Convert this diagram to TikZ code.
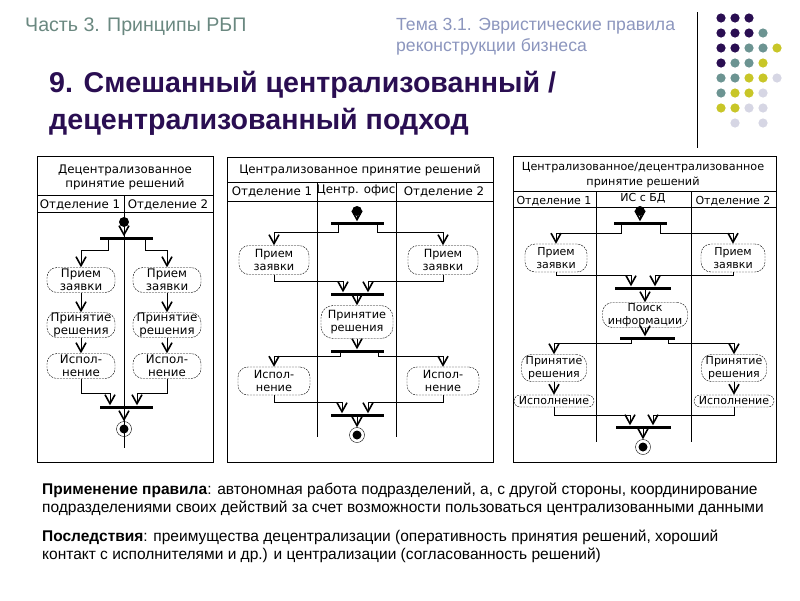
\documentclass[tikz,border=0pt]{standalone}
\usepackage{fontspec}
\setmainfont{Liberation Sans}
\newfontfamily\dgfont{DejaVu Sans}
\usetikzlibrary{arrows.meta}
\definecolor{rbppurple}{RGB}{42,14,82}
\definecolor{rbpteal}{RGB}{108,148,146}
\definecolor{rbpolive}{RGB}{200,198,40}
\definecolor{rbplilac}{RGB}{214,214,228}
\definecolor{rbpgreen}{RGB}{106,136,128}
\definecolor{rbpslate}{RGB}{140,150,190}

\begin{document}
\begin{tikzpicture}[x=1pt,y=-1pt,
  font=\dgfont\fontsize{11.8}{13}\selectfont,
  frame/.style={draw,line width=0.8pt},
  lane/.style={line width=0.7pt},
  act/.style={draw=black,dash pattern=on 2pt off 1pt,rounded corners=10pt,align=center,inner sep=0pt,minimum width=68pt,minimum height=25pt},
  bar/.style={fill=black,inner sep=0pt,minimum width=53pt,minimum height=3pt},
  start/.style={circle,fill=black,inner sep=0pt,minimum size=10pt},
  finish/.style={circle,draw,inner sep=0pt,minimum size=15pt,path picture={\fill (path picture bounding box.center) circle (4.5pt);}},
  flow/.style={line width=0.7pt,-{Straight Barb[length=9pt,width=10pt,line width=1.6pt]}},
  dot/.style={radius=4.6pt}]

\fill[white] (0,0) rectangle (800,600);
\useasboundingbox (0,0) rectangle (800,600);

% slide header
\node[anchor=west,inner sep=0,font=\fontsize{19.6}{22}\selectfont,text=rbpgreen] (part) at (25,27) {Часть 3. Принципы РБП};
\node[anchor=west,inner sep=0,align=left,font=\fontsize{17.6}{21}\selectfont,text=rbpslate] (topic) at (396,36.5) {Тема 3.1. Эвристические правила\\реконструкции бизнеса};
\node[anchor=west,inner sep=0,align=left,font=\fontsize{28.6}{37}\selectfont\bfseries,text=rbppurple] (title) at (49,103.5) {9. Смешанный централизованный /\\децентрализованный подход};
\draw[line width=0.9pt] (697,12) -- (697,148);

\foreach \c/\r in {1/1,2/1,3/1,1/2,2/2,3/2,1/3,2/3,1/4}
  \fill[rbppurple,dot] (707+14*\c,3+15*\r) circle;
\foreach \c/\r in {4/2,3/3,4/3,2/4,3/4,1/5,2/5,1/6}
  \fill[rbpteal,dot] (707+14*\c,3+15*\r) circle;
\foreach \c/\r in {5/3,4/4,3/5,4/5,2/6,3/6,1/7,2/7}
  \fill[rbpolive,dot] (707+14*\c,3+15*\r) circle;
\foreach \c/\r in {5/5,4/6,3/7,4/7,2/8,4/8}
  \fill[rbplilac,dot] (707+14*\c,3+15*\r) circle;

% decentralised
\draw[frame] (37,156) rectangle (213,462);
\draw[lane] (37,195) -- (213,195);
\draw[lane] (37,212) -- (213,212);
\draw[lane] (124,195) -- (124,448);
\node[align=center,font=\dgfont\fontsize{11.8}{14}\selectfont] (t1) at (125,177) {Децентрализованное\\принятие решений};
\node (h11) at (80,205) {Отделение 1};
\node (h12) at (168,205) {Отделение 2};

\node[start] (s1) at (124,222) {};
\node[bar] (fk1) at (126,238) {};
\node[act] (a1) at (81,280) {Прием\\заявки};
\node[act] (a2) at (167,280) {Прием\\заявки};
\node[act] (b1) at (81,325) {Принятие\\решения};
\node[act] (b2) at (167,325) {Принятие\\решения};
\node[act] (c1) at (81,366) {Испол-\\нение};
\node[act] (c2) at (167,366) {Испол-\\нение};
\node[bar] (jn1) at (126,407) {};
\node[finish] (e1) at (124,429) {};

\draw[flow] (s1) -- (s1 |- fk1.north);
\draw[flow] ([xshift=-18pt]fk1.south) -- ++(0,11) -| (a1.north);
\draw[flow] ([xshift=19pt]fk1.south) -- ++(0,11) -| (a2.north);
\draw[flow] (a1) -- (b1);
\draw[flow] (b1) -- (c1);
\draw[flow] (a2) -- (b2);
\draw[flow] (b2) -- (c2);
\draw[flow] (c1.south) -- ++(0,15) -| ([xshift=-16pt]jn1.north);
\draw[flow] (c2.south) -- ++(0,15) -| ([xshift=11pt]jn1.north);
\draw[flow] (e1 |- jn1.south) -- (e1);

% centralised
\draw[frame] (227,157) rectangle (493,462);
\draw[lane] (227,182) -- (493,182);
\draw[lane] (227,201) -- (493,201);
\draw[lane] (317,182) -- (317,437);
\draw[lane] (396,182) -- (396,437);
\node (t2) at (360,170) {Централизованное принятие решений};
\node (h21) at (272,192) {Отделение 1};
\node (h22) at (356,190) {Центр. офис};
\node (h23) at (444,192) {Отделение 2};

\begin{scope}[font=\dgfont\fontsize{11.3}{13}\selectfont]
\node[start] (s2) at (357,211) {};
\node[bar] (fk2) at (357,223) {};
\node[act,minimum width=70pt,minimum height=29pt] (a3) at (274,260) {Прием\\заявки};
\node[act,minimum width=70pt,minimum height=29pt] (a4) at (443,260) {Прием\\заявки};
\node[bar] (jn2) at (357,294) {};
\node[act,minimum width=72pt,minimum height=33pt,rounded corners=12pt] (b3) at (357,322) {Принятие\\решения};
\node[bar] (fk3) at (357,351) {};
\node[act,minimum width=72pt,minimum height=28pt] (c3) at (274,381) {Испол-\\нение};
\node[act,minimum width=72pt,minimum height=28pt] (c4) at (443,381) {Испол-\\нение};
\node[bar] (jn3) at (357,415) {};
\node[finish] (e2) at (357,435) {};
\end{scope}

\draw[flow] (s2) -- (s2 |- fk2.north);
\draw[flow] ([xshift=-19pt]fk2.south) -- ++(0,8) -| (a3.north);
\draw[flow] ([xshift=20pt]fk2.south) -- ++(0,8) -| (a4.north);
\draw[flow] (a3.south) -- ++(0,7) -| ([xshift=-14pt]jn2.north);
\draw[flow] (a4.south) -- ++(0,7) -| ([xshift=11pt]jn2.north);
\draw[flow] (b3 |- jn2.south) -- (b3);
\draw[flow] (b3) -- (b3 |- fk3.north);
\draw[flow] ([xshift=-17pt]fk3.south) -- ++(0,4) -| (c3.north);
\draw[flow] ([xshift=21pt]fk3.south) -- ++(0,4) -| (c4.north);
\draw[flow] (c3.south) -- ++(0,7) -| ([xshift=-15pt]jn3.north);
\draw[flow] (c4.south) -- ++(0,7) -| ([xshift=11pt]jn3.north);
\draw[flow] (e2 |- jn3.south) -- (e2);

% mixed, with the shared database
\draw[frame] (513,156) rectangle (776,462);
\draw[lane] (513,191) -- (776,191);
\draw[lane] (513,207) -- (776,207);
\draw[lane] (596,191) -- (596,442);
\draw[lane] (691,191) -- (691,442);

\begin{scope}[font=\dgfont\fontsize{11}{13}\selectfont]
\node[align=center,font=\dgfont\fontsize{11.2}{15}\selectfont] (t3) at (643,175) {Централизованное/децентрализованное\\принятие решений};
\node (h31) at (554,201) {Отделение 1};
\node (h32) at (643,198) {ИС с БД};
\node (h33) at (733,201) {Отделение 2};

\node[start] (s3) at (640,211) {};
\node[bar] (fk4) at (640,223) {};
\node[act,minimum width=62pt,minimum height=28pt] (a5) at (556,258) {Прием\\заявки};
\node[act,minimum width=64pt,minimum height=28pt] (a6) at (733,258) {Прием\\заявки};
\node[bar,minimum width=56pt] (jn4) at (643,288) {};
\node[act,minimum width=85pt,minimum height=25pt] (d1) at (645,315) {Поиск\\информации};
\node[bar,minimum width=55pt] (fk5) at (647,338) {};
\node[act,minimum width=65pt,minimum height=27pt] (b5) at (554,368) {Принятие\\решения};
\node[act,minimum width=65pt,minimum height=27pt] (b6) at (734,368) {Принятие\\решения};
\node[act,minimum width=80pt,minimum height=12pt,rounded corners=6pt] (c5) at (554,401) {Исполнение};
\node[act,minimum width=80pt,minimum height=12pt,rounded corners=6pt] (c6) at (734,401) {Исполнение};
\node[bar,minimum width=55pt] (jn5) at (643,427) {};
\node[finish] (e3) at (643,447) {};
\end{scope}

\draw[flow] (s3) -- (s3 |- fk4.north);
\draw[flow] ([xshift=-19pt]fk4.south) -- ++(0,9) -| (a5.north);
\draw[flow] ([xshift=20pt]fk4.south) -- ++(0,9) -| (a6.north);
\draw[flow] (a5.south) -- ++(0,3) -| ([xshift=-12pt]jn4.north);
\draw[flow] (a6.south) -- ++(0,3) -| ([xshift=12pt]jn4.north);
\draw[flow] (d1 |- jn4.south) -- (d1);
\draw[flow] (d1) -- (d1 |- fk5.north);
\draw[flow] ([xshift=-16pt]fk5.south) -- ++(0,4) -| (b5.north);
\draw[flow] ([xshift=21pt]fk5.south) -- ++(0,4) -| (b6.north);
\draw[flow] (b5) -- (c5);
\draw[flow] (b6) -- (c6);
\draw[flow] (c5.south) -- ++(0,8) -| ([xshift=-13pt]jn5.north);
\draw[flow] (c6.south) -- ++(0,8) -| ([xshift=10pt]jn5.north);
\draw[flow] (e3 |- jn5.south) -- (e3);

% notes under the diagrams
\node[anchor=north west,inner sep=0,align=left,font=\fontsize{15.5}{18}\selectfont] (rule) at (42,483) {\textbf{Применение правила}: автономная работа подразделений, а, с другой стороны, координирование\\подразделениями своих действий за счет возможности пользоваться централизованными данными};
\node[anchor=north west,inner sep=0,align=left,font=\fontsize{15.5}{18}\selectfont] (effect) at (42,530) {\textbf{Последствия}: преимущества децентрализации (оперативность принятия решений, хороший\\контакт с исполнителями и др.) и централизации (согласованность решений)};
\end{tikzpicture}
\end{document}
